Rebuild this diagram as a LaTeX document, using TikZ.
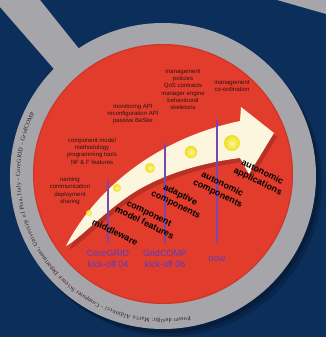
\documentclass[tikz,border=0pt]{standalone}
\usepackage{fontspec}
\setmainfont{Liberation Serif}
\setsansfont{Liberation Sans}
\usetikzlibrary{decorations.text,calc}
\definecolor{navy}{RGB}{12,46,90}
\definecolor{navyshadow}{RGB}{4,22,46}
\definecolor{ringgrey}{RGB}{166,166,170}
\definecolor{lensred}{RGB}{226,60,45}
\definecolor{cream}{RGB}{253,246,222}
\definecolor{milestone}{RGB}{122,72,172}
\definecolor{labelblue}{RGB}{84,62,196}
\definecolor{dotyellow}{RGB}{238,222,30}
\definecolor{dotlight}{RGB}{252,246,150}
\definecolor{inktext}{RGB}{45,20,18}
\begin{document}
\begin{tikzpicture}[x=1pt,y=-1pt,
  small/.style={font=\sffamily\fontsize{6}{7.3}\selectfont, text=inktext, align=center, inner sep=0pt},
  stage/.style={font=\sffamily\bfseries\fontsize{9}{10.5}\selectfont, text=black, align=center, rotate=-26, inner sep=0pt},
  milelabel/.style={font=\sffamily\fontsize{9}{11}\selectfont, text=labelblue, align=center, inner sep=0pt},
  mileline/.style={draw=milestone, line width=1.6pt},
  yellowdot/.style={inner color=dotlight, outer color=dotyellow}
]
\useasboundingbox (0,0) rectangle (326,337);
\fill[navy] (0,0) rectangle (326,337);
% grey corner at top right
\fill[ringgrey] (277,0) -- (326,0) -- (326,14) -- cycle;
\coordinate (C) at (163,176);
\coordinate (R) at (163,174);
% shadow of the lens
\fill[navyshadow, opacity=0.35] (169,183) circle[radius=153pt];
\fill[navyshadow, opacity=0.45] (166,180) circle[radius=153pt];
% handle
\fill[ringgrey] (0,0) -- (40,0) -- (92,65) -- (60,76) -- (0,7) -- cycle;
% ring and lens
\fill[ringgrey] (C) circle[radius=153pt];
\fill[lensred] (R) circle[radius=130pt];
\draw[lensred!75!black, opacity=0.35, line width=1.2pt] (R) circle[radius=129.4pt];
% text round the ring
\path[decorate, decoration={text along path, text color=inktext, text align={fit to path},
  text={|\fontsize{6}{7}\selectfont|Poster design: Marco Aldinucci - Computer Science Department, University of Pisa, Italy - CoreGRID - GridCOMP}}]
  ($(C)+(281:143pt)$) arc[start angle=281, end angle=154, radius=143pt];
% arrow shadow
\fill[black, opacity=0.18, shift={(3,4)}]
  (66,246) .. controls (92,195) and (150,140) .. (240,121)
  -- (241,107) -- (274,133) -- (249,174) -- (240,158)
  .. controls (200,163) and (160,175) .. (130,195)
  .. controls (102,214) and (78,240) .. (66,246) -- cycle;
% arrow
\fill[cream]
  (66,246) .. controls (92,195) and (150,140) .. (240,121)
  -- (241,107) -- (274,133) -- (249,174) -- (240,158)
  .. controls (200,163) and (160,175) .. (130,195)
  .. controls (102,214) and (78,240) .. (66,246) -- cycle;
% dots
\shade[yellowdot] (89,213) circle[radius=3pt];
\shade[yellowdot] (117,188) circle[radius=4pt];
\shade[yellowdot] (150,168) circle[radius=5pt];
\shade[yellowdot] (191,152) circle[radius=6.2pt];
\shade[yellowdot] (232,143) circle[radius=8pt];
% milestones
\node[milelabel] (coregrid) at (108,258.5) {CoreGRID\\kick-off 04};
\node[milelabel] (gridcomp) at (165,258.5) {GridCOMP\\kick-off 06};
\node[milelabel] (now) at (217,259) {now};
\coordinate (m1) at (108,180);
\coordinate (m2) at (165,143);
\coordinate (m3) at (217,120);
\draw[mileline] (m1) -- (m1 |- 0,243);
\draw[mileline] (m2) -- (m2 |- 0,243);
\draw[mileline] (m3) -- (m3 |- 0,243);
% stages
\node[stage] (mw) at (115,232) {middleware};
\node[stage] (cmf) at (147,218) {component\\model features};
\node[stage] (ac) at (178,200) {adaptive\\components};
\node[stage] (autc) at (220,189) {autonomic\\components};
\node[stage] (auta) at (260,177) {autonomic\\applications};
% features
\node[small] (f1) at (70,191) {naming\\communication\\deployment\\sharing};
\node[small] (f2) at (92,151) {component model\\methodology\\programming tools\\NF \& F features};
\node[small] (f3) at (133,114) {monitoring API\\reconfiguration API\\passive BeSke};
\node[small] (f4) at (183,89.5) {management\\policies\\QoS contracts\\manager engine\\behavioural\\skeletons};
\node[small] (f5) at (232,86) {management\\co-ordination};
\end{tikzpicture}
\end{document}
